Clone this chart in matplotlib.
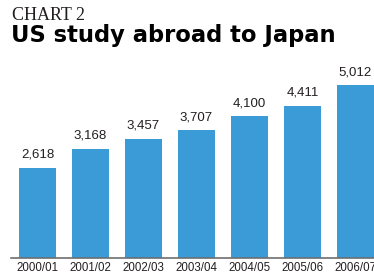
import matplotlib.pyplot as plt

years = ["2000/01", "2001/02", "2002/03", "2003/04", "2004/05", "2005/06", "2006/07"]
students = [2618, 3168, 3457, 3707, 4100, 4411, 5012]

bar_color = "#3a9bd7"
text_color = "#231f20"

fig = plt.figure(figsize=(3.74, 2.78), dpi=100)
fig.patch.set_facecolor("white")

# axes spans the full width, baseline 20 px above the bottom edge
ax = fig.add_axes([0, 20 / 278, 1, 198 / 278])
x = list(range(len(years)))
ax.bar(x, students, width=0.70, color=bar_color, zorder=2)
ax.set_xlim(-37.5 / 53, (374 - 37.5) / 53)
ax.set_ylim(0, 5012 * 198 / 173)

for xi, v in zip(x, students):
    ax.annotate(f"{v:,}", (xi, v), xytext=(0, 5), textcoords="offset points",
                ha="center", va="bottom", fontsize=9.5, color=text_color,
                family="Liberation Sans")

ax.set_xticks(x)
ax.set_xticklabels(years, fontsize=8.3, color=text_color, family="Liberation Sans")
ax.tick_params(axis="x", length=0, pad=3)
ax.set_yticks([])
for s in ["top", "right", "left"]:
    ax.spines[s].set_visible(False)
ax.spines["bottom"].set_color("#6d6e71")
ax.spines["bottom"].set_linewidth(1.2)
ax.spines["bottom"].set_bounds(-0.5, 7)
ax.spines["bottom"].set_zorder(3)

fig.text(12 / 374, 1 - 20 / 278, "CHART 2", fontsize=13, family="Liberation Serif",
         color=text_color, va="baseline")
fig.text(11 / 374, 1 - 42 / 278, "US study abroad to Japan", fontsize=16.3,
         family="DejaVu Sans", weight="heavy", color="black", va="baseline")

fig.savefig("out.png", dpi=100)
